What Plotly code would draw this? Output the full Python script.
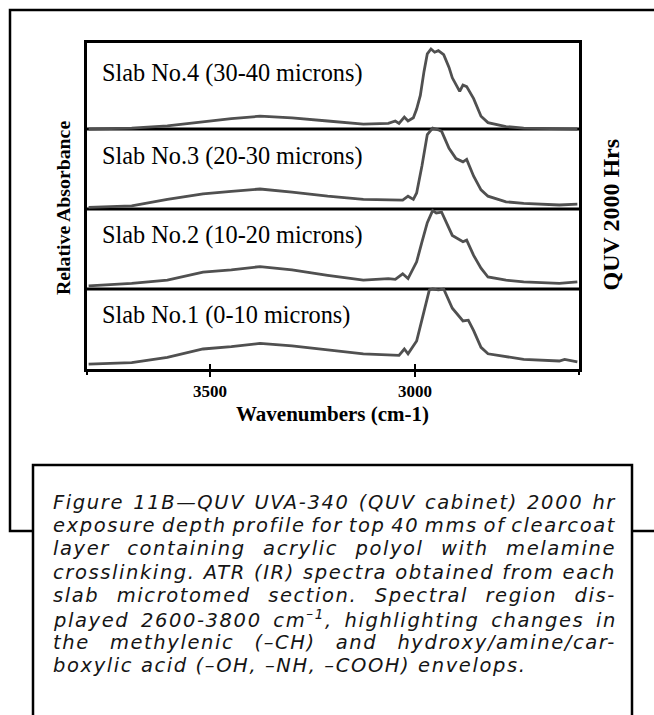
import plotly.graph_objects as go

W, H = 654, 715

# ---- data (wavenumber cm-1, relative absorbance) ----
wn_slab4 = [3796, 3691, 3604, 3517, 3448, 3378, 3300, 3213, 3126, 3065,
            3048, 3039, 3026, 3017, 3004, 2996, 2987, 2978, 2970, 2961,
            2952, 2943, 2930, 2917, 2909, 2891, 2883, 2874, 2857, 2839,
            2822, 2778, 2735, 2604]
abs_slab4 = [0.00, 0.01, 0.04, 0.09, 0.13, 0.16, 0.14, 0.10, 0.06, 0.07,
             0.10, 0.07, 0.15, 0.10, 0.14, 0.25, 0.42, 0.72, 0.94, 1.00,
             0.96, 0.98, 0.93, 0.77, 0.64, 0.47, 0.55, 0.53, 0.38, 0.16,
             0.08, 0.03, 0.01, 0.00]

wn_slab3 = [3796, 3691, 3604, 3517, 3448, 3378, 3300, 3213, 3126, 3030,
            3017, 3004, 2996, 2983, 2970, 2957, 2943, 2935, 2917, 2900,
            2883, 2874, 2857, 2839, 2822, 2778, 2735, 2691, 2648, 2604]
abs_slab3 = [0.02, 0.04, 0.12, 0.19, 0.22, 0.25, 0.21, 0.16, 0.12, 0.11,
             0.16, 0.12, 0.20, 0.54, 0.93, 1.01, 0.99, 0.97, 0.76, 0.63,
             0.59, 0.62, 0.41, 0.24, 0.16, 0.09, 0.07, 0.06, 0.05, 0.06]

wn_slab2 = [3796, 3691, 3604, 3517, 3448, 3378, 3300, 3213, 3126, 3065,
            3048, 3030, 3017, 2996, 2983, 2970, 2957, 2948, 2935, 2909,
            2883, 2874, 2857, 2839, 2822, 2778, 2735, 2648, 2604]
abs_slab2 = [0.04, 0.07, 0.11, 0.21, 0.24, 0.28, 0.24, 0.17, 0.11, 0.13,
             0.12, 0.19, 0.13, 0.34, 0.59, 0.83, 0.98, 0.95, 0.96, 0.67,
             0.59, 0.61, 0.42, 0.26, 0.15, 0.11, 0.09, 0.07, 0.09]

wn_slab1 = [3796, 3691, 3604, 3517, 3448, 3378, 3300, 3213, 3126, 3039,
            3026, 3017, 2996, 2978, 2965, 2957, 2943, 2930, 2909, 2883,
            2870, 2857, 2839, 2822, 2735, 2648, 2635, 2604]
abs_slab1 = [0.06, 0.08, 0.145, 0.25, 0.28, 0.32, 0.29, 0.24, 0.19, 0.17,
             0.25, 0.19, 0.35, 0.72, 0.99, 1.00, 0.99, 1.00, 0.76, 0.60,
             0.61, 0.48, 0.27, 0.19, 0.12, 0.10, 0.12, 0.09]

slab_labels = ["Slab No.1 (0-10 microns)", "Slab No.2 (10-20 microns)",
               "Slab No.3 (20-30 microns)", "Slab No.4 (30-40 microns)"]
label_ticks = [3500, 3000]
label_tick_text = ["3500", "3000"]
end_ticks = [3800, 2600]

caption_lines = [
    "Figure 11B\u2014QUV UVA-340 (QUV cabinet) 2000 hr",
    "exposure depth profile for top 40 mms of clearcoat",
    "layer containing acrylic polyol with melamine",
    "crosslinking. ATR (IR) spectra obtained from each",
    "slab microtomed section. Spectral region dis-",
    "played 2600-3800 cm<sup>\u20131</sup>, highlighting changes in",
    "the methylenic (\u2013CH) and hydroxy/amine/car-",
    "boxylic acid (\u2013OH, \u2013NH, \u2013COOH) envelops.",
]

# ---- layout helpers (pixel -> paper) ----
def px(x):
    return x / W

def py(y):
    return 1 - y / H

PLOT_L, PLOT_R, PLOT_T, PLOT_B = 87, 579, 43, 369
Y_TOP = (PLOT_B - PLOT_T) / 80.0   # one panel ~80 px
offsets = [0, 1, 2, 3]              # stacking offsets (panel bottoms)
label_y = [315, 235, 156, 73]

LINE_COL = "#505050"
SERIF = "Liberation Serif"

fig = go.Figure()
series = [(wn_slab1, abs_slab1), (wn_slab2, abs_slab2),
          (wn_slab3, abs_slab3), (wn_slab4, abs_slab4)]
for (wn, ab), off in zip(series, offsets):
    fig.add_trace(go.Scatter(x=wn, y=[off + a for a in ab], mode="lines",
                             line=dict(color=LINE_COL, width=2.8),
                             showlegend=False, hoverinfo="skip"))
# invisible traces so the tick-overlay axes are drawn
for ax in ("x2", "x3"):
    fig.add_trace(go.Scatter(x=[3800], y=[0], xaxis=ax, mode="markers",
                             marker=dict(opacity=0), showlegend=False,
                             hoverinfo="skip"))

shapes = []
for off in offsets[1:]:
    shapes.append(dict(type="line", xref="paper", yref="y",
                       x0=px(PLOT_L), x1=px(PLOT_R), y0=off, y1=off,
                       line=dict(color="black", width=3), layer="below"))
shapes.append(dict(type="rect", xref="paper", yref="paper",
                   x0=px(10), x1=px(700), y0=py(531), y1=py(10),
                   line=dict(color="black", width=2.5), fillcolor="rgba(0,0,0,0)"))
shapes.append(dict(type="rect", xref="paper", yref="paper",
                   x0=px(33), x1=px(632), y0=py(740), y1=py(465),
                   line=dict(color="black", width=2.5), fillcolor="white"))

annotations = []
for lab, yy in zip(slab_labels, label_y):
    annotations.append(dict(text=lab, xref="paper", yref="paper",
                            x=px(100), y=py(yy), xanchor="left", yanchor="middle",
                            showarrow=False,
                            font=dict(family=SERIF, size=24.3, color="black")))
annotations.append(dict(text="Relative Absorbance", xref="paper", yref="paper",
                        x=px(63), y=py(208), textangle=-90, showarrow=False,
                        xanchor="center", yanchor="middle",
                        font=dict(family=SERIF, size=19.8, color="black", weight="bold")))
annotations.append(dict(text="QUV 2000 Hrs", xref="paper", yref="paper",
                        x=px(610), y=py(214.5), textangle=-90, showarrow=False,
                        xanchor="center", yanchor="middle",
                        font=dict(family=SERIF, size=24, color="black", weight="bold")))
annotations.append(dict(text="Wavenumbers (cm-1)", xref="paper", yref="paper",
                        x=px((PLOT_L + PLOT_R) / 2), y=py(414), showarrow=False,
                        xanchor="center", yanchor="middle",
                        font=dict(family=SERIF, size=21, color="black", weight="bold")))
CAP_START = len(annotations)
for i, line in enumerate(caption_lines):
    annotations.append(dict(text=line, xref="paper", yref="paper",
                            x=px(51), y=py(502 + 23.4 * i), showarrow=False,
                            xanchor="left", yanchor="middle", align="left",
                            font=dict(family="DejaVu Sans", size=19.5,
                                      color="#151515", style="italic")))

axis_common = dict(range=[3800, 2600], domain=[px(PLOT_L), px(PLOT_R)],
                   showgrid=False, zeroline=False, tickmode="array",
                   ticklen=5, tickwidth=2, tickcolor="black", anchor="y")

fig.update_layout(
    width=W, height=H, autosize=False,
    margin=dict(l=0, r=0, t=0, b=0),
    paper_bgcolor="white", plot_bgcolor="rgba(0,0,0,0)",
    xaxis=dict(**axis_common, tickvals=label_ticks, ticktext=label_tick_text,
               ticks="outside", showline=True, linecolor="black", linewidth=3,
               mirror=True,
               tickfont=dict(family=SERIF, size=17, color="black", weight="bold")),
    xaxis2=dict(**axis_common, tickvals=label_ticks + end_ticks, overlaying="x",
                ticks="inside", showticklabels=False, showline=False),
    xaxis3=dict(**axis_common, tickvals=end_ticks, overlaying="x",
                ticks="outside", showticklabels=False, showline=False),
    yaxis=dict(range=[0, Y_TOP], domain=[py(PLOT_B), py(PLOT_T)],
               showline=True, linecolor="black", linewidth=3, mirror=True,
               showgrid=False, zeroline=False, showticklabels=False, ticks=""),
    shapes=shapes, annotations=annotations,
)

cap_idx = list(range(CAP_START, CAP_START + len(caption_lines)))
justify_idx = cap_idx[:-1]
post = """
(function(){
  var gd = document.getElementById('{plot_id}');
  var target = 563;
  var capIdx = %s;
  var justIdx = %s;
  gd.querySelectorAll('g.annotation').forEach(function(g){
    var i = parseInt(g.getAttribute('data-index'));
    if (capIdx.indexOf(i) < 0) return;
    var t = g.querySelector('text.annotation-text');
    if (!t) return;
    t.style.letterSpacing = '1.6px';
    if (justIdx.indexOf(i) < 0) return;
    var len = t.getComputedTextLength();
    var n = (t.textContent.match(/ /g) || []).length;
    if (n > 0) { t.style.wordSpacing = ((target - len) / n) + 'px'; }
  });
})();
""" % (str(cap_idx), str(justify_idx))

fig.write_html("out.html", config={"responsive": False}, post_script=post)
